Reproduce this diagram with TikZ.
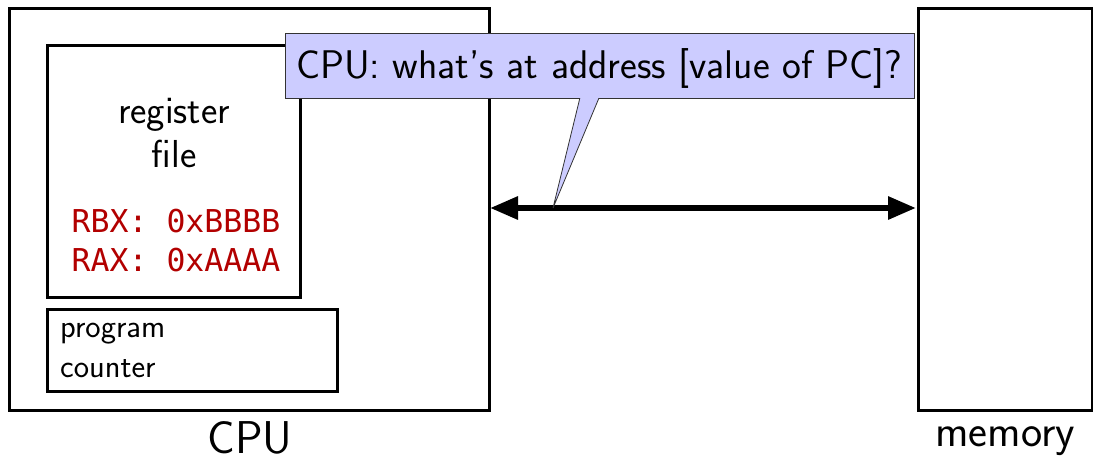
\documentclass[tikz,border=0pt]{standalone}
\usepackage{fontspec}
\setmonofont{DejaVu Sans Mono}
\usetikzlibrary{arrows.meta,shapes.callouts}
\definecolor{regred}{RGB}{178,0,0}
\definecolor{calloutfill}{RGB}{204,204,255}
\tikzset{
  unit/.style={draw, line width=3pt, inner sep=0pt, outer sep=0pt},
  lbl/.style={font=\sffamily\fontsize{#1}{#1}\selectfont, inner sep=0pt, anchor=base},
  reg/.style={font=\ttfamily\fontsize{31.5}{31.5}\selectfont, text=regred, inner sep=0pt, anchor=base},
  bus/.style={line width=6pt, {Triangle[length=28pt,width=22pt]}-{Triangle[length=28pt,width=22pt]}},
}
\begin{document}
\begin{tikzpicture}[x=1pt, y=-1pt]
\useasboundingbox (0,0) rectangle (1093,461);

% CPU and its parts
\node[unit, minimum width=480pt, minimum height=402pt] (cpu) at (249,209) {};
\node[unit, minimum width=253pt, minimum height=252pt] (regfile) at (173.5,171) {};
\node[unit, minimum width=290pt, minimum height=82pt] (pc) at (192,350) {};

% memory
\node[unit, minimum width=174pt, minimum height=402pt] (mem) at (1005,209) {};

% texts
\node[lbl=39] (rf1) at (174,123) {register};
\node[lbl=39] (rf2) at (174,167) {file};
\node[reg] (rbx) at (176,232) {RBX: 0xBBBB};
\node[reg] (rax) at (176,271) {RAX: 0xAAAA};
\node[lbl=32.5, anchor=base west] (pcl1) at (60,337) {program};
\node[lbl=32.5, anchor=base west] (pcl2) at (60,377) {counter};
\node[lbl=46] (cpulbl) at (250,453) {CPU};
\node[lbl=45] (memlbl) at (1005,446) {memory};

% bus between CPU and memory
\coordinate (busL) at (cpu.east |- 0,208);
\coordinate (busR) at (mem.west |- 0,208);
\draw[bus, shorten <=1pt, shorten >=2pt] (busL) -- (busR);
\coordinate (tip) at (553,208);

% speech bubble
\node[rectangle callout, draw=black!80, line width=0.8pt, fill=calloutfill,
      minimum width=629pt, minimum height=65pt, inner sep=0pt,
      callout absolute pointer={(tip)}, callout pointer width=19pt] (ask) at (600,66) {};
\node[lbl=40] (asktext) at (599,78) {CPU: what’s at address [value of PC]?};
\end{tikzpicture}
\end{document}
